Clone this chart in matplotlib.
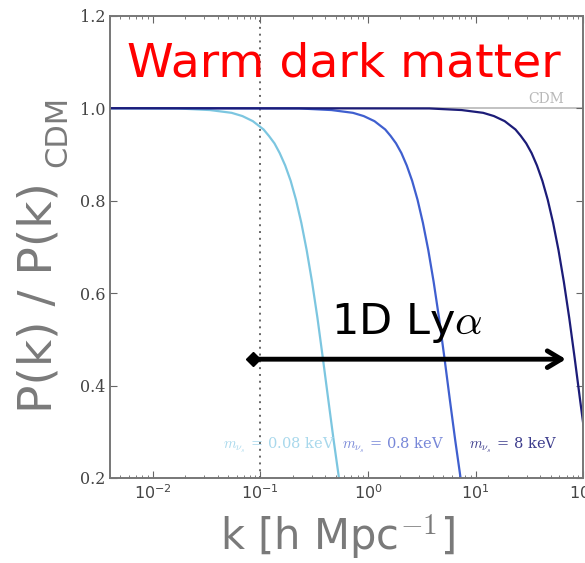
import matplotlib
matplotlib.use("Agg")
import matplotlib.pyplot as plt

plt.rcParams['mathtext.fontset'] = 'cm'

# power-spectrum suppression relative to CDM
k_light = [0.004, 0.017, 0.034, 0.054, 0.068, 0.085, 0.107, 0.120, 0.135, 0.151, 0.170,
           0.191, 0.214, 0.240, 0.269, 0.302, 0.339, 0.380, 0.427, 0.479, 0.537, 0.603]
k_mid = [0.004, 0.229, 0.457, 0.724, 0.912, 1.148, 1.445, 1.622, 1.820, 2.042, 2.291,
         2.570, 2.884, 3.236, 3.631, 4.074, 4.571, 5.129, 5.754, 6.457, 7.244, 8.128]
k_dark = [0.004, 3.715, 7.413, 11.75, 14.79, 18.62, 23.44, 26.30, 29.51, 33.11, 37.15,
          41.69, 46.77, 52.48, 58.88, 66.07, 74.13, 83.18, 93.33, 104.7, 117.5, 132.0]
ratio = [1.0, 0.9995, 0.996, 0.990, 0.983, 0.972, 0.954, 0.940, 0.924, 0.903, 0.876,
         0.843, 0.802, 0.752, 0.693, 0.624, 0.546, 0.460, 0.370, 0.282, 0.200, 0.132]

masses = ['0.08', '0.8', '8']
colors = ['#7cc6e0', '#3f5fcf', '#1c1c78']
label_colors = ['#a8d8ec', '#7787d8', '#3c3c8c']
label_k = [0.147, 1.71, 22.2]

cdm_k = [0.004, 100.0]
cdm_ratio = [1.0, 1.0]
k_cut = 0.1
arrow_k = [0.086, 69.0]
arrow_y = 0.457

fig = plt.figure(figsize=(5.85, 5.63), dpi=100)
ax = fig.add_axes([0.188, 0.151, 0.809, 0.821])

ax.plot(cdm_k, cdm_ratio, color='#b8b8b8', lw=1.2, zorder=1)
for kk, c in zip([k_light, k_mid, k_dark], colors):
    ax.plot(kk, ratio, color=c, lw=1.6, zorder=2)

ax.axvline(k_cut, color='#666666', lw=1.4, ls=(0, (1, 2.5)), zorder=1)

ax.set_xscale('log')
ax.set_xlim(0.004, 100)
ax.set_ylim(0.2, 1.2)
ax.set_yticks([0.2, 0.4, 0.6, 0.8, 1.0, 1.2])
ax.set_yticklabels(['0.2', '0.4', '0.6', '0.8', '1.0', '1.2'], family='DejaVu Serif')

ax.tick_params(which='both', direction='in', top=True, right=True, colors='#666666',
               labelcolor='#444444', labelsize=11.5)
ax.tick_params(which='major', length=5)
ax.tick_params(which='minor', length=2.5)
ax.tick_params(axis='x', pad=4)
for s in ax.spines.values():
    s.set_color('#777777')
    s.set_linewidth(1.4)

for m, c, x in zip(masses, label_colors, label_k):
    ax.text(x, 0.271, r'$m_{\nu_s}$ = ' + m + ' keV', color=c, fontsize=10.5,
            family='DejaVu Serif', ha='center', va='center')

ax.text(45, 1.02, 'CDM', color='#b8b8b8', fontsize=10, family='DejaVu Serif',
        ha='center', va='center')

ax.text(0.0058, 1.095, 'Warm dark matter', color='#ff0000', fontsize=34,
        ha='left', va='center')

# 1D Lyman-alpha range arrow
ax.annotate('', xy=(arrow_k[1], arrow_y), xytext=(arrow_k[0], arrow_y),
            arrowprops=dict(arrowstyle='->,head_length=1.0,head_width=0.6',
                            color='black', lw=3.5, shrinkA=0, shrinkB=0), zorder=5)
ax.plot([arrow_k[0]], [arrow_y], marker='D', color='black', ms=7, zorder=6)
ax.text(2.3, 0.535, r'1D Ly$\alpha$', color='black', fontsize=31, ha='center', va='center')

ax.set_xlabel(r'k [h Mpc$^{\mathsf{-1}}$]', color='#7a7a7a', fontsize=30)
ax.xaxis.set_label_coords(0.48, -0.075)
fig.text(0.066, 0.472, 'P(k) / P(k)', color='#7a7a7a', fontsize=34, rotation=90,
         ha='center', va='center')
fig.text(0.099, 0.766, 'CDM', color='#7a7a7a', fontsize=22, rotation=90,
         ha='center', va='center')

fig.savefig('out.png', dpi=100)
